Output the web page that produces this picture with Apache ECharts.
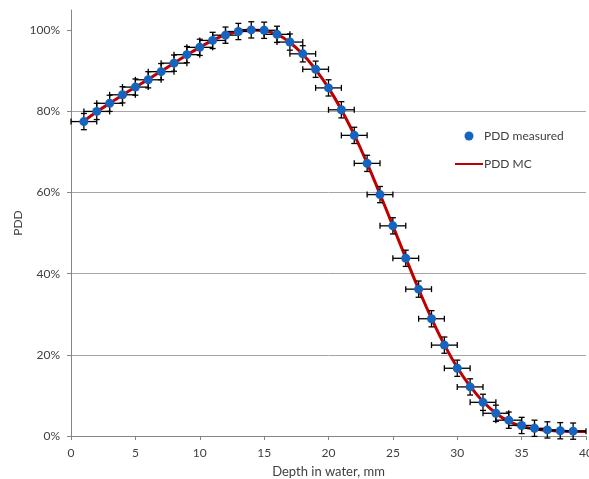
<!DOCTYPE html>
<html>
<head>
<meta charset="utf-8">
<script src="https://cdn.jsdelivr.net/npm/echarts@6/dist/echarts.min.js"></script>
<style>html,body{margin:0;padding:0;background:#fff}#c{width:589px;height:479px}</style>
</head>
<body>
<div id="c"></div>
<script>
var depthMeasured = [1,2,3,4,5,6,7,8,9,10,11,12,13,14,15,16,17,18,19,20,21,22,23,24,25,26,27,28,29,30,31,32,33,34,35,36,37,38,39];
var pddMeasured = [77.5,80.0,82.0,84.1,86.0,87.8,89.8,91.9,94.0,95.8,97.5,98.8,99.7,100.1,100.0,99.0,97.1,94.2,90.4,85.8,80.4,74.1,67.2,59.5,51.8,43.8,36.2,28.9,22.4,16.7,12.1,8.3,5.6,3.9,2.6,1.9,1.5,1.3,1.2];
var depthErr = 1;     // mm
var pddErr = 2;       // %
var depthMC = [1,2,3,4,5,6,7,8,9,10,11,12,13,14,15,16,17,18,19,20,21,22,23,24,25,26,27,28,29,30,31,32,33,34,35,36,37,38,39,40];
var pddMC = [77.6,79.9,82.0,84.0,86.0,87.9,89.9,91.9,93.9,95.8,97.5,98.9,99.7,100.1,99.9,99.0,97.0,94.1,90.3,85.8,80.4,74.2,67.2,59.6,51.8,43.9,36.2,29.0,22.5,16.9,12.3,8.5,5.6,3.6,2.4,1.7,1.4,1.2,1.1,1.1];
var xTicks = [0,5,10,15,20,25,30,35,40];
var yTicks = [0,20,40,60,80,100];

var measured = depthMeasured.map(function(d,i){return [d, pddMeasured[i]];});
var mc = depthMC.map(function(d,i){return [d, pddMC[i]];});
var errData = depthMeasured.map(function(d,i){return [d, pddMeasured[i], depthErr, pddErr];});

var font = 'Lato, "Open Sans", sans-serif';
var chart = echarts.init(document.getElementById('c'), null, {renderer:'canvas'});
chart.setOption({
  animation:false,
  textStyle:{fontFamily:font},
  grid:{left:71, right:3, top:10, bottom:43, outerBoundsMode:'none', containLabel:false},
  legend:{
    orient:'vertical', left:449, top:125, itemWidth:28, itemHeight:9, itemGap:16,
    textStyle:{fontFamily:font, fontSize:12, color:'#404040', padding:[0,0,0,-4]},
    data:[{name:'PDD measured', icon:'circle'},{name:'PDD MC', itemStyle:{opacity:0}}]
  },
  xAxis:{
    type:'value', min:0, max:40, interval:5,
    name:'Depth in water, mm', nameLocation:'middle', nameGap:29, nameMoveOverlap:false,
    nameTextStyle:{fontFamily:font, fontSize:13, color:'#404040'},
    axisLine:{lineStyle:{color:'#868686'}},
    axisTick:{show:true, length:4, lineStyle:{color:'#868686'}, customValues:xTicks},
    axisLabel:{fontFamily:font, fontSize:12, color:'#404040', margin:11, customValues:xTicks},
    splitLine:{show:false}
  },
  yAxis:{
    type:'value', min:0, max:105, interval:20,
    name:'PDD', nameLocation:'middle', nameGap:47, nameMoveOverlap:false,
    nameTextStyle:{fontFamily:font, fontSize:12, color:'#404040'},
    axisLine:{show:true, lineStyle:{color:'#868686'}},
    axisTick:{show:true, length:4, lineStyle:{color:'#868686'}, customValues:yTicks},
    axisLabel:{fontFamily:font, fontSize:12, color:'#404040', margin:11, formatter:'{value}%', customValues:yTicks},
    splitLine:{show:true, showMaxLine:false, showMinLine:false, lineStyle:{color:'#a6a6a6', width:1}}
  },
  series:[
    {
      name:'PDD MC', type:'line', data:mc, smooth:true, symbol:'none',
      lineStyle:{color:'#C00000', width:3}, itemStyle:{color:'#C00000'}, z:2
    },
    {
      name:'err', type:'custom', data:errData, z:3,
      renderItem:function(params, api){
        var x = api.value(0), y = api.value(1), ex = api.value(2), ey = api.value(3);
        var l = api.coord([x-ex, y]), r = api.coord([x+ex, y]);
        var t = api.coord([x, y+ey]), b = api.coord([x, y-ey]);
        var cap = 3;
        var st = {stroke:'#000', lineWidth:1.3};
        return {type:'group', children:[
          {type:'line', shape:{x1:l[0],y1:l[1],x2:r[0],y2:r[1]}, style:st},
          {type:'line', shape:{x1:l[0],y1:l[1]-cap,x2:l[0],y2:l[1]+cap}, style:st},
          {type:'line', shape:{x1:r[0],y1:r[1]-cap,x2:r[0],y2:r[1]+cap}, style:st},
          {type:'line', shape:{x1:t[0],y1:t[1],x2:b[0],y2:b[1]}, style:st},
          {type:'line', shape:{x1:t[0]-cap,y1:t[1],x2:t[0]+cap,y2:t[1]}, style:st},
          {type:'line', shape:{x1:b[0]-cap,y1:b[1],x2:b[0]+cap,y2:b[1]}, style:st}
        ]};
      }
    },
    {
      name:'PDD measured', type:'scatter', data:measured, symbol:'circle', symbolSize:9,
      itemStyle:{color:'#1565C0', opacity:1}, z:4
    }
  ]
});
</script>
</body>
</html>
